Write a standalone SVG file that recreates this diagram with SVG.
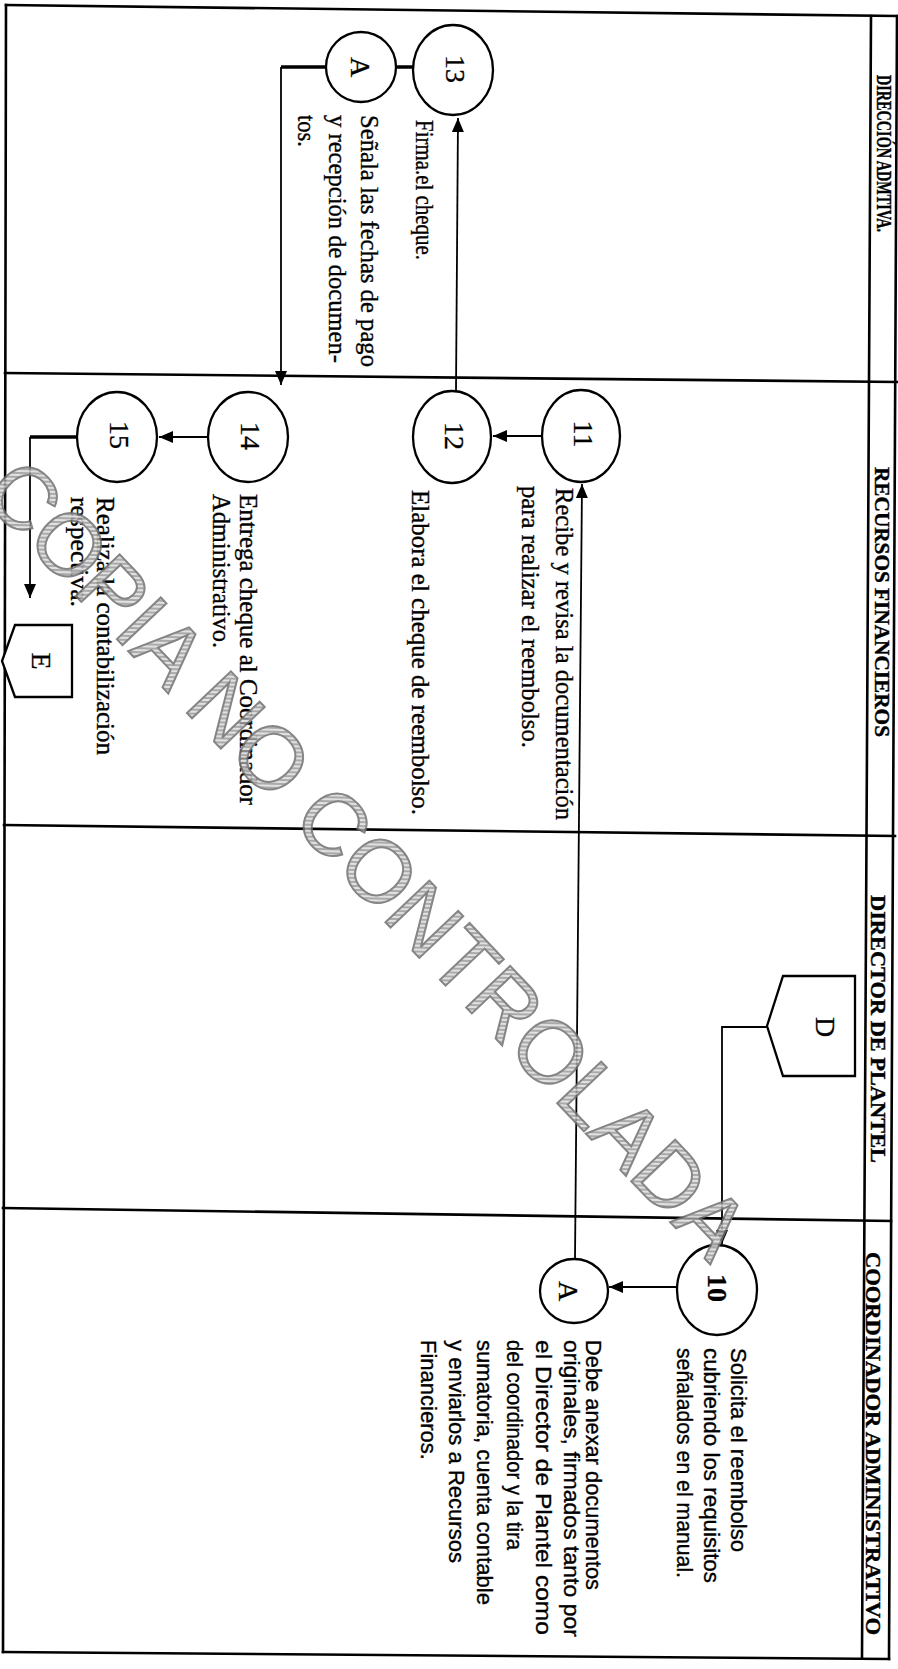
<svg xmlns="http://www.w3.org/2000/svg" width="898" height="1669" viewBox="0 0 898 1669">
<style>
.fr{stroke:#000;stroke-width:2.6;fill:none;stroke-linecap:square}
.node{fill:#fff;stroke:#000;stroke-width:2.3}
.c{stroke:#000;stroke-width:1.8;fill:none}
.ck{stroke:#000;stroke-width:3.6;fill:none}
.t{font-family:"Liberation Serif","Times New Roman",serif;font-size:24.5px;fill:#000;stroke:#000;stroke-width:0.35}
.s{font-family:"Liberation Sans",Arial,sans-serif;font-size:22px;fill:#000;stroke:#000;stroke-width:0.35}
.h{font-family:"Liberation Serif","Times New Roman",serif;font-weight:bold;font-size:22px;fill:#000;stroke:#000;stroke-width:0.4}
.n{font-family:"Liberation Serif","Times New Roman",serif;font-size:28px;fill:#000;text-anchor:middle;stroke:#000;stroke-width:0.3}
.wm{font-family:"Liberation Sans",Arial,sans-serif;font-size:88px;fill:url(#hatch);stroke:#707070;stroke-width:2;opacity:0.85}
</style>
<defs>
<marker id="ah" viewBox="0 0 14 12" refX="14" refY="6" markerWidth="14" markerHeight="12" markerUnits="userSpaceOnUse" orient="auto">
<path d="M0,0 L14,6 L0,12 z" fill="#000"/>
</marker>
<pattern id="hatch" width="4" height="4" patternUnits="userSpaceOnUse" patternTransform="rotate(45)">
<rect width="4" height="4" fill="#dcdcdc"/>
<line x1="1" y1="0" x2="1" y2="4" stroke="#8c8c8c" stroke-width="1.6"/>
</pattern>
</defs>
<rect width="898" height="1669" fill="#fff"/>
<g id="frame">
<line class="fr" x1="6" y1="5" x2="897" y2="16"/>
<line class="fr" x1="6" y1="5" x2="3" y2="1652"/>
<line class="fr" x1="3" y1="1652" x2="889" y2="1659"/>
<line class="fr" x1="897" y1="16" x2="889" y2="1659"/>
<line class="fr" x1="871" y1="16" x2="862" y2="1657"/>
<line class="fr" x1="5" y1="373" x2="897" y2="382"/>
<line class="fr" x1="4" y1="825" x2="895" y2="836"/>
<line class="fr" x1="3" y1="1208" x2="891" y2="1221"/>
</g>
<g id="headers">
<text class="h" x="877" y="75" transform="rotate(90 877 75)" textLength="157" lengthAdjust="spacingAndGlyphs">DIRECCIÓN ADMTIVA.</text>
<text class="h" x="875" y="467" transform="rotate(90 875 467)" textLength="270" lengthAdjust="spacingAndGlyphs">RECURSOS FINANCIEROS</text>
<text class="h" x="871" y="895" transform="rotate(90 871 895)" textLength="268" lengthAdjust="spacingAndGlyphs">DIRECTOR DE PLANTEL</text>
<text class="h" x="866" y="1252" transform="rotate(90 866 1252)" textLength="383" lengthAdjust="spacingAndGlyphs">COORDINADOR ADMINISTRATIVO</text>
</g>
<g id="connectors">
<path class="c" d="M767,1027 H722 V1244" marker-end="url(#ah)"/>
<path class="c" d="M677,1287 H609" marker-end="url(#ah)"/>
<path class="c" d="M575,1258 L582,484" marker-end="url(#ah)"/>
<path class="c" d="M542,436 H493" marker-end="url(#ah)"/>
<path class="c" d="M456,391 L458,118" marker-end="url(#ah)"/>
<path class="ck" d="M442,67 H395"/>
<path class="ck" d="M326,67 H281"/>
<path class="c" d="M281,67 V385" marker-end="url(#ah)"/>
<path class="c" d="M208,437 H159" marker-end="url(#ah)"/>
<path class="ck" d="M77,437 H30"/>
<path class="c" d="M30,437 V598" marker-end="url(#ah)"/>
</g>
<g id="n13">
<ellipse class="node" cx="453" cy="70" rx="40" ry="45"/>
<text class="n" x="446" y="69" transform="rotate(90 446 69)">13</text>
<text class="t" x="416" y="120" transform="rotate(90 416 120)" textLength="140" lengthAdjust="spacingAndGlyphs">Firma.el cheque.</text>
</g>
<g id="nA1">
<ellipse class="node" cx="361" cy="67" rx="35" ry="35"/>
<text class="n" x="351" y="67" transform="rotate(90 351 67)">A</text>
<text class="t" x="361" y="115" transform="rotate(90 361 115)" textLength="252" lengthAdjust="spacingAndGlyphs">Señala las fechas de pago</text>
<text class="t" x="329" y="115" transform="rotate(90 329 115)" textLength="248" lengthAdjust="spacingAndGlyphs">y recepción de documen-</text>
<text class="t" x="298" y="115" transform="rotate(90 298 115)" textLength="32" lengthAdjust="spacingAndGlyphs">tos.</text>
</g>
<g id="n11">
<ellipse class="node" cx="581" cy="436" rx="39" ry="46"/>
<text class="n" x="574" y="434" transform="rotate(90 574 434)">11</text>
<text class="t" x="556" y="488" transform="rotate(90 556 488)" textLength="332" lengthAdjust="spacingAndGlyphs">Recibe y revisa la documentación</text>
<text class="t" x="522" y="486" transform="rotate(90 522 486)" textLength="262" lengthAdjust="spacingAndGlyphs">para realizar el reembolso.</text>
</g>
<g id="n12">
<ellipse class="node" cx="452" cy="437" rx="39" ry="46"/>
<text class="n" x="445" y="436" transform="rotate(90 445 436)">12</text>
<text class="t" x="412" y="490" transform="rotate(90 412 490)" textLength="325" lengthAdjust="spacingAndGlyphs">Elabora el cheque de reembolso.</text>
</g>
<g id="n14">
<ellipse class="node" cx="248" cy="437" rx="40" ry="45"/>
<text class="n" x="241" y="436" transform="rotate(90 241 436)">14</text>
<text class="t" x="240" y="494" transform="rotate(90 240 494)" textLength="311" lengthAdjust="spacingAndGlyphs">Entrega cheque al Coordinador</text>
<text class="t" x="213" y="494" transform="rotate(90 213 494)" textLength="154" lengthAdjust="spacingAndGlyphs">Administrativo.</text>
</g>
<g id="n15">
<ellipse class="node" cx="117" cy="437" rx="40" ry="45"/>
<text class="n" x="110" y="435" transform="rotate(90 110 435)">15</text>
<text class="t" x="97" y="497" transform="rotate(90 97 497)" textLength="258" lengthAdjust="spacingAndGlyphs">Realiza la contabilización</text>
<text class="t" x="71" y="497" transform="rotate(90 71 497)" textLength="110" lengthAdjust="spacingAndGlyphs">respectiva.</text>
</g>
<g id="nE">
<polygon class="node" points="15,625 72,625 72,697 15,697 2,661"/>
<text class="n" x="32" y="661" transform="rotate(90 32 661)">E</text>
</g>
<g id="nD">
<polygon class="node" points="783,976 855,976 855,1076 783,1076 767,1026"/>
<text class="n" x="816" y="1027" transform="rotate(90 816 1027)">D</text>
</g>
<g id="n10">
<ellipse class="node" cx="717" cy="1290" rx="40" ry="45"/>
<text class="n" x="708" y="1288" transform="rotate(90 708 1288)" font-weight="bold">10</text>
<text class="s" x="731" y="1348" transform="rotate(90 731 1348)" textLength="204" lengthAdjust="spacingAndGlyphs">Solicita el reembolso</text>
<text class="s" x="704" y="1348" transform="rotate(90 704 1348)" textLength="235" lengthAdjust="spacingAndGlyphs">cubriendo los requisitos</text>
<text class="s" x="677" y="1348" transform="rotate(90 677 1348)" textLength="230" lengthAdjust="spacingAndGlyphs">señalados en el manual.</text>
</g>
<g id="nA2">
<ellipse class="node" cx="574" cy="1291" rx="34" ry="32"/>
<text class="n" x="559" y="1291" transform="rotate(90 559 1291)">A</text>
<text class="s" x="586" y="1340" transform="rotate(90 586 1340)" textLength="250" lengthAdjust="spacingAndGlyphs">Debe anexar documentos</text>
<text class="s" x="564" y="1340" transform="rotate(90 564 1340)" textLength="297" lengthAdjust="spacingAndGlyphs">originales, firmados tanto por</text>
<text class="s" x="536" y="1340" transform="rotate(90 536 1340)" textLength="295" lengthAdjust="spacingAndGlyphs">el Director de Plantel  como</text>
<text class="s" x="507" y="1340" transform="rotate(90 507 1340)" textLength="210" lengthAdjust="spacingAndGlyphs">del coordinador y la tira</text>
<text class="s" x="477" y="1340" transform="rotate(90 477 1340)" textLength="265" lengthAdjust="spacingAndGlyphs">sumatoria, cuenta contable</text>
<text class="s" x="449" y="1340" transform="rotate(90 449 1340)" textLength="223" lengthAdjust="spacingAndGlyphs">y enviarlos a Recursos</text>
<text class="s" x="421" y="1340" transform="rotate(90 421 1340)" textLength="120" lengthAdjust="spacingAndGlyphs">Financieros.</text>
</g>
<g id="watermark">
<text class="wm" x="0" y="0" transform="translate(-20,495) rotate(46.5)">COPIA NO CONTROLADA</text>
</g>
</svg>
